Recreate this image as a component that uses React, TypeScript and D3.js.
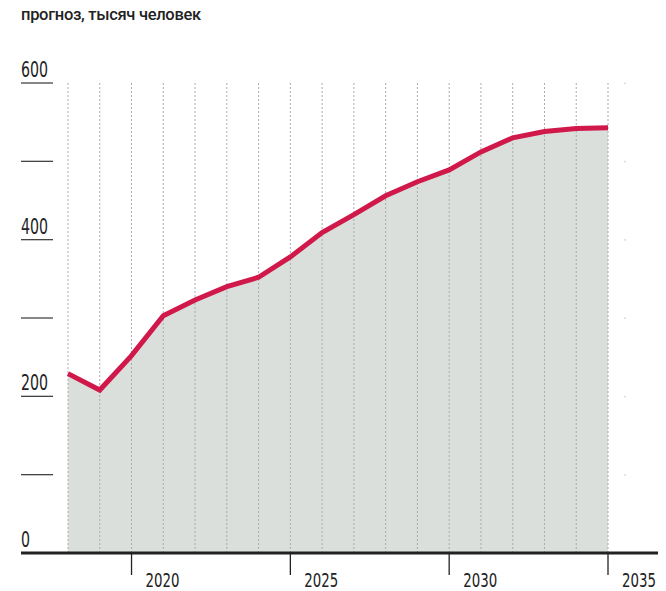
import * as d3 from 'd3';

const years = [2018, 2019, 2020, 2021, 2022, 2023, 2024, 2025, 2026, 2027, 2028, 2029, 2030, 2031, 2032, 2033, 2034, 2035];
const values = [229, 208, 252, 303, 323, 340, 352, 378, 409, 432, 456, 474, 489, 512, 530, 538, 542, 543];
const yTicks = [0, 100, 200, 300, 400, 500, 600];
const yLabels = [0, 200, 400, 600];
const xTicks = [2020, 2025, 2030, 2035];

const W = 666;
const H = 591;
const condensed = '"Liberation Sans Narrow", "DejaVu Sans Condensed", sans-serif';

export default function App() {
  const x = d3.scaleLinear().domain([2018, 2035]).range([68, 608]);
  const y = d3.scaleLinear().domain([0, 600]).range([553, 83]);

  const pts = years.map((yr, i) => [yr, values[i]] as [number, number]);
  const area = d3.area<[number, number]>().x(d => x(d[0])).y0(y(0)).y1(d => y(d[1]))(pts) ?? '';
  const line = d3.line<[number, number]>().x(d => x(d[0])).y(d => y(d[1]))(pts) ?? '';

  return (
    <svg width={W} height={H} style={{ position: 'absolute', left: 0, top: 0, background: '#fff' }}>
      <text x={21} y={20} fontFamily='Roboto, sans-serif' fontWeight={500} fontSize={16.5} fill='#222' letterSpacing={-0.3}>
        прогноз, тысяч человек
      </text>

      <path d={area} fill='#dadfdb' />

      {years.map(yr => (
        <line key={yr} x1={x(yr)} x2={x(yr)} y1={y(600)} y2={y(0)} stroke='#aaa' strokeWidth={1} strokeDasharray='2,2' />
      ))}

      {yTicks.filter(t => t > 0).map(t => (
        <g key={t}>
          <line x1={21} x2={53} y1={y(t)} y2={y(t)} stroke='#444' strokeWidth={1.3} />
          <rect x={624.5} y={y(t) - 0.5} width={1} height={1.5} fill='#bbb' />
        </g>
      ))}

      {yLabels.map(t => (
        <text key={t} x={21} y={y(t) - 6} fontFamily={condensed} fontSize={20.5} fill='#222'
          textLength={String(t).length * 9} lengthAdjust='spacingAndGlyphs'>
          {t}
        </text>
      ))}

      <line x1={21} x2={658} y1={y(0)} y2={y(0)} stroke='#222' strokeWidth={3} />

      {xTicks.map(t => (
        <g key={t}>
          <line x1={x(t)} x2={x(t)} y1={y(0)} y2={575} stroke='#222' strokeWidth={1.3} />
          <text x={x(t) + 14} y={587} fontFamily={condensed} fontSize={19} fill='#222'
            textLength={34} lengthAdjust='spacingAndGlyphs'>
            {t}
          </text>
        </g>
      ))}

      <path d={line} fill='none' stroke='#d0184a' strokeWidth={5} strokeLinejoin='miter' />
    </svg>
  );
}
